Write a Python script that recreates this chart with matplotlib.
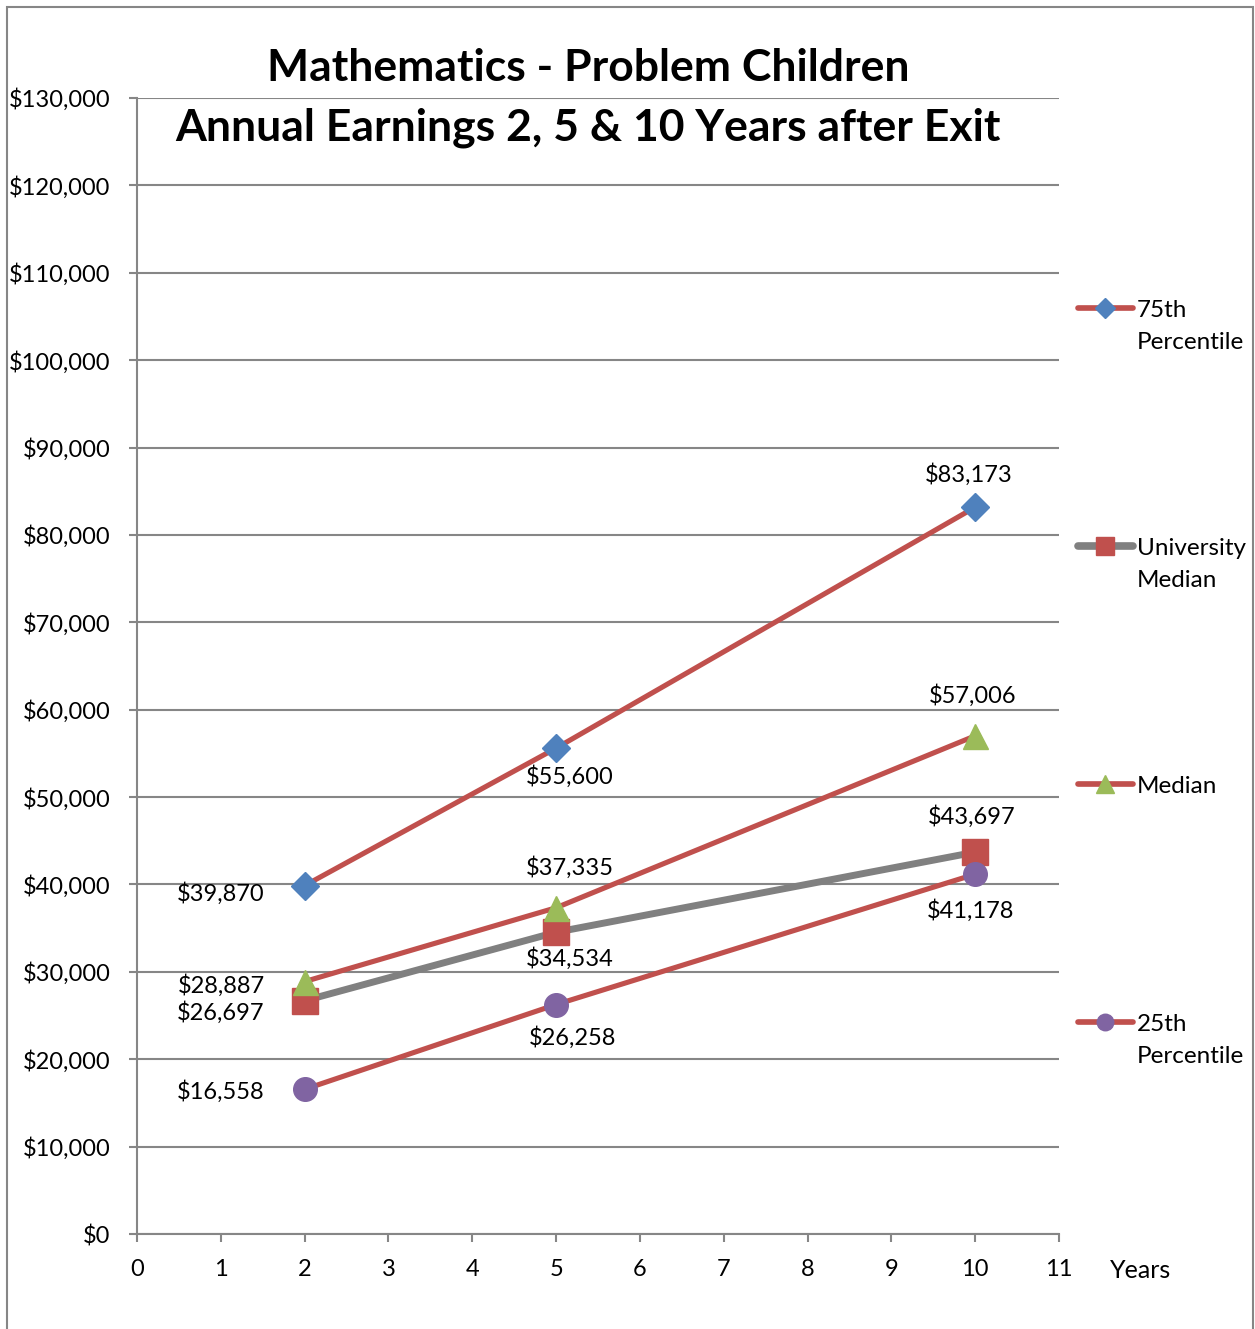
import matplotlib
matplotlib.use("Agg")
import matplotlib.pyplot as plt
from matplotlib.lines import Line2D
from matplotlib.patches import Rectangle

plt.rcParams['font.family'] = ['Lato', 'DejaVu Sans']

years = [2, 5, 10]
p75 = [39870, 55600, 83173]
uni_median = [26697, 34534, 43697]
median = [28887, 37335, 57006]
p25 = [16558, 26258, 41178]

series_names = ["75th\nPercentile", "University\nMedian", "Median", "25th\nPercentile"]
series_values = [p75, uni_median, median, p25]

RED = "#C0504D"
styles = [
    dict(color=RED, lw=3.7, marker="D", ms=14, mfc="#4F81BD", mec="#4F81BD"),
    dict(color="#808080", lw=5, marker="s", ms=19, mfc=RED, mec=RED),
    dict(color=RED, lw=3.7, marker="^", ms=18, mfc="#9BBB59", mec="#9BBB59"),
    dict(color=RED, lw=3.7, marker="o", ms=17, mfc="#8064A2", mec="#8064A2"),
]
# label placement per point: (dx px, dy px, ha)
placements = [
    [(-40, -8, "right"), (14, -28, "center"), (-6, 33, "center")],
    [(-40, -12, "right"), (14, -26, "center"), (-4, 36, "center")],
    [(-40, -4, "right"), (14, 40, "center"), (-3, 40, "center")],
    [(-40, -2, "right"), (16, -33, "center"), (-5, -36, "center")],
]

W, H = 1255, 1329
fig = plt.figure(figsize=(W / 100, H / 100), dpi=100)
ax = fig.add_axes([137 / W, 1 - 1234 / H, (1059 - 137) / W, (1234 - 98) / H])

for vals, st in zip(series_values, styles):
    ax.plot(years, vals, solid_capstyle="butt", zorder=3, **st)

for vals, pl in zip(series_values, placements):
    for x, v, (dx, dy, ha) in zip(years, vals, pl):
        ax.annotate(f"${v:,}", (x, v), xytext=(dx, dy), textcoords="offset pixels",
                    ha=ha, va="center", fontsize=17, zorder=5)

ax.set_xlim(0, 11)
ax.set_ylim(0, 130000)
ax.set_xticks(range(0, 12))
ax.set_yticks(range(0, 130001, 10000))
ax.yaxis.set_major_formatter(matplotlib.ticker.FuncFormatter(lambda v, p: f"${v:,.0f}"))
ax.grid(axis="y", color="#868686", lw=1.5, zorder=0)
for s in ["top", "right"]:
    ax.spines[s].set_visible(False)
for s in ["left", "bottom"]:
    ax.spines[s].set_color("#868686")
    ax.spines[s].set_linewidth(1.5)
ax.tick_params(axis="both", colors="#868686", labelcolor="black", length=6, width=1.5,
               labelsize=17)
ax.tick_params(axis="y", pad=13)
ax.tick_params(axis="x", pad=12)

fig.text(1110 / W, 1 - 1271 / H, "Years", fontsize=18, ha="left", va="center")

fig.text(588 / W, 1 - 68 / H, "Mathematics - Problem Children", fontsize=32,
         fontweight="bold", ha="center", va="center")
fig.text(588 / W, 1 - 128 / H, "Annual Earnings 2, 5 & 10 Years after Exit", fontsize=32,
         fontweight="bold", ha="center", va="center")

# legend
leg_y = [308, 546, 784, 1022]
for name, st, y in zip(series_names, styles, leg_y):
    fy = 1 - y / H
    fig.add_artist(Line2D([1078 / W, 1133 / W], [fy, fy], color=st["color"],
                          lw=st["lw"] * 1.1, solid_capstyle="round"))
    fig.add_artist(Line2D([1105 / W], [fy], marker=st["marker"], ms=st["ms"] * 0.7,
                          mfc=st["mfc"], mec=st["mec"], lw=0))
    fig.text(1137 / W, 1 - (y - 8) / H, name, fontsize=17.5, ha="left", va="top",
             linespacing=1.62)

fig.add_artist(Rectangle((7 / W, -0.05), (1253 - 7) / W, 1 - 7 / H + 0.05,
                         transform=fig.transFigure, fill=False, ec="#868686", lw=1.5))

fig.savefig("out.png", dpi=100)
